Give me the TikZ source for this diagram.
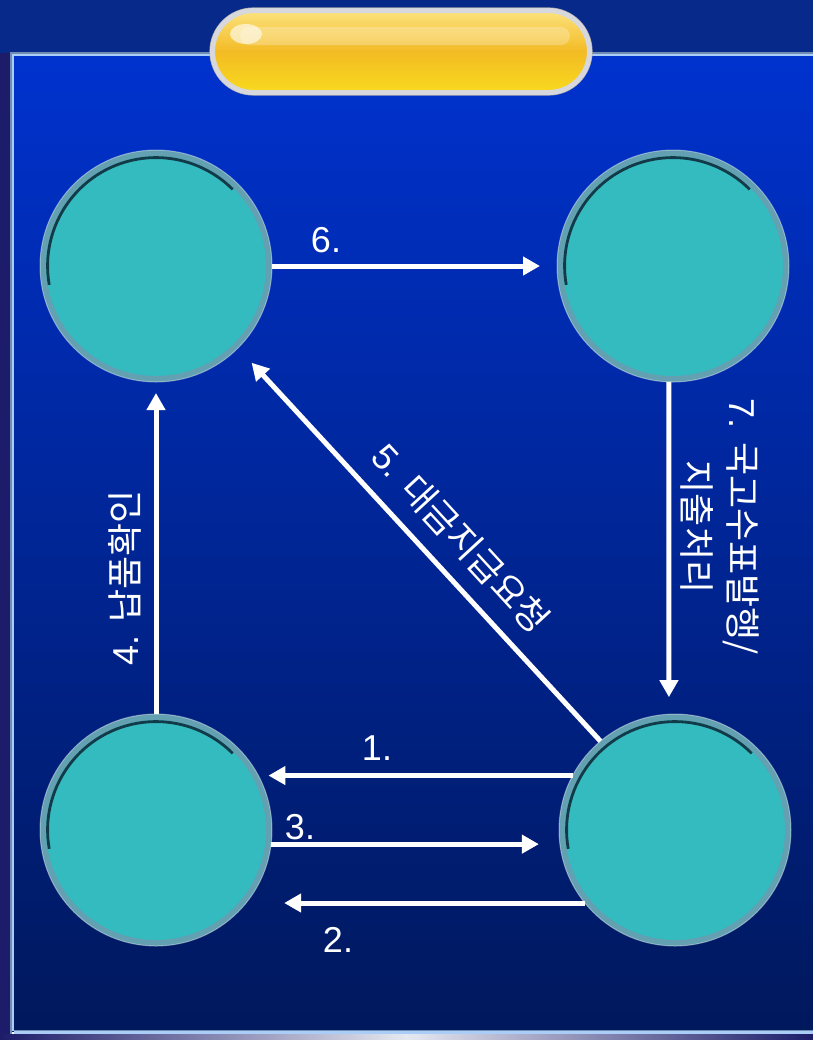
\documentclass[tikz,border=0pt]{standalone}
\usepackage{fontspec}
\setmainfont{Liberation Sans}
\newfontfamily\krfont{Noto Sans CJK KR}
\usetikzlibrary{arrows.meta,shapes.misc}

\definecolor{topbg}{HTML}{072A8A}
\definecolor{leftbg}{HTML}{1C1C6A}
\definecolor{paneltop}{HTML}{0032CE}
\definecolor{panelbot}{HTML}{00185C}
\definecolor{edgegray}{HTML}{6F8DB3}
\definecolor{edgelight}{HTML}{A9CDF6}
\definecolor{tealfill}{HTML}{33BBC0}
\definecolor{rimblue}{HTML}{62A0B2}
\definecolor{rimdark}{HTML}{123A48}
\definecolor{pilltop}{HTML}{FCE27E}
\definecolor{pillmid}{HTML}{F3BB24}
\definecolor{pillbot}{HTML}{F8DA1E}
\definecolor{pillrim}{HTML}{D6D8DE}
\definecolor{stripmid}{HTML}{E6E8F0}

\tikzset{
  unit/.style={circle, minimum size=113pt, inner sep=0pt, fill=tealfill, draw=rimblue, line width=3pt},
  flow/.style={white, line width=2.5pt, -{Triangle[length=8.5pt,width=9pt]}},
  labeltext/.style={white, font=\fontsize{18}{23}\selectfont, align=center, inner sep=0pt},
}

\begin{document}
\begin{tikzpicture}[x=0.5pt,y=-0.5pt]
  \useasboundingbox (0,0) rectangle (813,1040);

  % backdrop and panel
  \fill[topbg] (0,0) rectangle (813,53);
  \fill[leftbg] (0,53) rectangle (11,1040);
  \shade[left color=leftbg, right color=leftbg, middle color=stripmid] (0,1034) rectangle (813,1040);
  \shade[top color=paneltop, bottom color=panelbot] (12,54) rectangle (813,1031);
  \draw[edgegray, line width=1pt] (11,1034) -- (11,53) -- (813,53);
  \draw[edgelight, line width=1pt] (13,1031) -- (13,55) -- (813,55);
  \fill[edgelight] (14,1031) rectangle (813,1034);
  \draw[edgegray, line width=0.5pt] (14,1030.5) -- (813,1030.5);

  % title pill
  \node[rounded rectangle, minimum width=191pt, minimum height=43.5pt, inner sep=0pt,
        draw=gray!70, line width=0.6pt] (titlerim) at (401,51.5) {};
  \node[rounded rectangle, minimum width=188.5pt, minimum height=41pt, inner sep=0pt,
        draw=pillrim, line width=2.5pt, top color=pilltop, bottom color=pillbot,
        middle color=pillmid] (title) at (401,51.5) {};
  \node[rounded rectangle, minimum width=165pt, minimum height=9pt, inner sep=0pt,
        fill=white, fill opacity=0.25] (gloss) at (405,36) {};
  \fill[white, opacity=0.6] (246,34) ellipse [x radius=8pt, y radius=5pt];

  % the four parties
  \node[unit] (payer) at (156,266) {};
  \node[unit] (bank) at (673,266) {};
  \node[unit] (agency) at (156,830) {};
  \node[unit] (supplier) at (675,830) {};
  \foreach \c in {payer,bank,agency,supplier}{
    \begin{scope}[shift={(\c.center)}, x=1pt, y=1pt]
      \draw[rimdark, line width=1.4pt] (190:54.2) arc[start angle=190, end angle=45, radius=54.2];
      \draw[white, opacity=0.4, line width=0.5pt] (0,0) circle[radius=58];
    \end{scope}
  }

  % flows
  \draw[flow, shorten >=5pt] (supplier.152) -- (agency.28);
  \draw[flow, shorten >=19pt] (supplier.219) -- (agency.-39);
  \draw[flow, shorten >=10.5pt] (agency.-7.4) -- (supplier.187.4);
  \draw[flow, shorten >=5.5pt] (agency.north) -- (payer.south);
  \draw[flow, shorten >=10pt] (supplier.130) -- (payer.-45);
  \draw[flow, shorten >=8.5pt] (payer.east) -- (bank.west);
  \draw[flow, shorten >=8.5pt] (bank.-92.5) -- (supplier.93.5);

  % labels
  \node[labeltext] (lab1) at (377,748) {1.};
  \node[labeltext] (lab2) at (338,940) {2.};
  \node[labeltext] (lab3) at (300,827) {3.};
  \node[labeltext, rotate=90] (lab4) at (125,578) {4. {\krfont 납품확인}};
  \node[labeltext, rotate=-47.4] (lab5) at (461,538) {5. {\krfont 대금지급요청}};
  \node[labeltext] (lab6) at (326,240) {6.};
  \node[labeltext, rotate=-90] (lab7) at (720,527)
    {7. {\krfont 국고수표발행/}\\{\krfont 지출처리}};
\end{tikzpicture}
\end{document}
